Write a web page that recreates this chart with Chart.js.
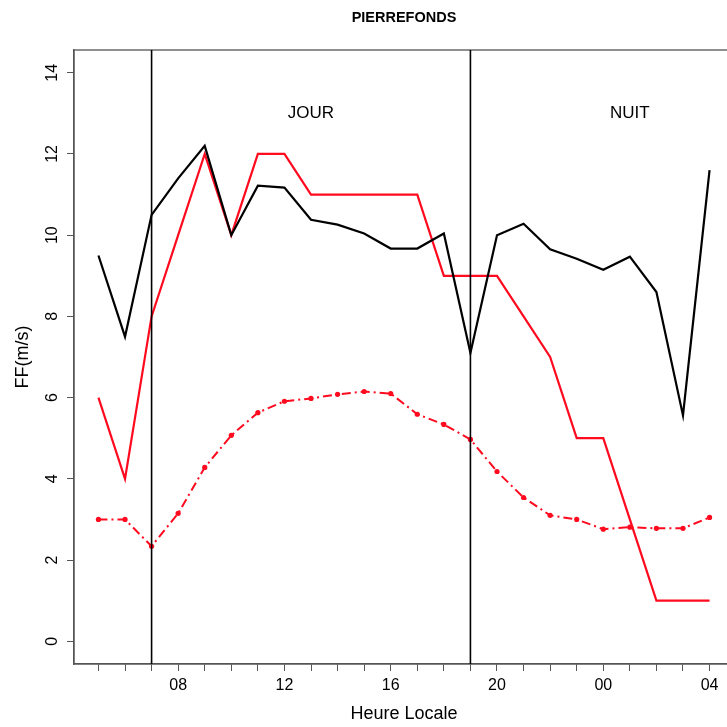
<!DOCTYPE html>
<html>
<head>
<meta charset="utf-8">
<script src="https://cdn.jsdelivr.net/npm/chart.js@4"></script>
<style>
  html, body { margin: 0; padding: 0; background: #fff; overflow: hidden; }
  #wrap { width: 745px; height: 727px; }
</style>
</head>
<body>
<div id="wrap"><canvas id="ffChart" width="745" height="727"></canvas></div>
<script>
// heures locales, de 05h a 04h le lendemain
const heures = ['05','06','07','08','09','10','11','12','13','14','15','16','17','18','19','20','21','22','23','00','01','02','03','04'];
const xTickLabels = ['08','12','16','20','00','04'];
const yTicks = [0, 2, 4, 6, 8, 10, 12, 14];

// vent moyen (noir), rafales / vent max (rouge), moyenne climato (rouge pointille)
const ffNoir = [9.5, 7.5, 10.5, 11.4, 12.2, 10.0, 11.22, 11.17, 10.38, 10.26, 10.04, 9.67, 9.67, 10.04, 7.1, 10.0, 10.28, 9.65, 9.42, 9.15, 9.47, 8.6, 5.56, 11.6];
const ffRouge = [6, 4, 8, 10, 12, 10, 12, 12, 11, 11, 11, 11, 11, 9, 9, 9, 8, 7, 5, 5, 3, 1, 1, 1];
const ffClim = [3.0, 3.0, 2.34, 3.15, 4.28, 5.07, 5.63, 5.91, 5.98, 6.08, 6.15, 6.1, 5.59, 5.34, 4.97, 4.18, 3.54, 3.1, 3.0, 2.76, 2.81, 2.78, 2.78, 3.05];

// limites jour / nuit
const limites = ['07', '19'];
const zones = [{ texte: 'JOUR', heure: '13', y: 13 }, { texte: 'NUIT', heure: '01', y: 13 }];

const police = "'Liberation Sans', Arial, sans-serif";

function pts(vals) {
    return vals.map((v, i) => ({ x: i, y: v }));
}

const decor = {
    id: 'decor',
    afterDatasetsDraw(chart) {
        const ctx = chart.ctx;
        const a = chart.chartArea;
        const xs = chart.scales.x, ys = chart.scales.y;
        ctx.save();
        // cadre
        ctx.strokeStyle = '#555';
        ctx.lineWidth = 1.3;
        ctx.strokeRect(a.left, a.top, a.right - a.left, a.bottom - a.top);
        // lignes verticales
        ctx.strokeStyle = '#000';
        ctx.lineWidth = 1.6;
        limites.forEach(h => {
            const px = xs.getPixelForValue(heures.indexOf(h));
            ctx.beginPath();
            ctx.moveTo(px, a.top);
            ctx.lineTo(px, a.bottom);
            ctx.stroke();
        });
        // textes JOUR / NUIT
        ctx.fillStyle = '#000';
        ctx.font = '17px ' + police;
        ctx.textAlign = 'center';
        ctx.textBaseline = 'middle';
        zones.forEach(z => {
            ctx.fillText(z.texte, xs.getPixelForValue(heures.indexOf(z.heure)), ys.getPixelForValue(z.y));
        });
        // titre
        ctx.font = 'bold 14.5px ' + police;
        ctx.fillText('PIERREFONDS', (a.left + a.right) / 2, 18);
        ctx.restore();
    }
};

new Chart(document.getElementById('ffChart'), {
    type: 'line',
    data: {
        datasets: [{
            label: 'FF',
            data: pts(ffNoir),
            borderColor: '#000',
            borderWidth: 2.2,
            pointRadius: 0,
            tension: 0
        }, {
            label: 'FX',
            data: pts(ffRouge),
            borderColor: '#ff0a1e',
            borderWidth: 2.2,
            pointRadius: 0,
            tension: 0
        }, {
            label: 'Clim',
            data: pts(ffClim),
            borderColor: '#ff0a1e',
            backgroundColor: '#ff0a1e',
            borderWidth: 2,
            borderDash: [9, 4, 2, 4],
            pointRadius: 2.6,
            pointBorderWidth: 0,
            tension: 0
        }]
    },
    options: {
        responsive: false,
        animation: false,
        layout: { padding: { left: 0, top: 50, right: 11, bottom: 0 } },
        plugins: {
            legend: { display: false },
            tooltip: { enabled: false }
        },
        scales: {
            x: {
                type: 'linear',
                min: -0.92,
                max: 23.92,
                afterBuildTicks: (scale) => {
                    scale.ticks = heures.map((h, i) => ({ value: i }));
                },
                afterFit: (scale) => { scale.height = 63; },
                grid: { drawOnChartArea: false, drawTicks: true, tickLength: 7, color: '#555' },
                border: { display: true, color: '#555', width: 1.3 },
                ticks: {
                    autoSkip: false,
                    maxRotation: 0,
                    padding: 5,
                    color: '#000',
                    font: { family: police, size: 16 },
                    callback: (v) => xTickLabels.includes(heures[v]) ? heures[v] : ''
                },
                title: {
                    display: true,
                    text: 'Heure Locale',
                    color: '#000',
                    font: { family: police, size: 18 },
                    padding: { top: 0, bottom: 2 }
                }
            },
            y: {
                min: -0.56,
                max: 14.56,
                afterBuildTicks: (scale) => {
                    scale.ticks = yTicks.map(v => ({ value: v }));
                },
                afterFit: (scale) => { scale.width = 74; },
                grid: { drawOnChartArea: false, drawTicks: true, tickLength: 7, color: '#555' },
                border: { display: true, color: '#555', width: 1.3 },
                ticks: {
                    minRotation: 90,
                    maxRotation: 90,
                    crossAlign: 'center',
                    padding: 6,
                    color: '#000',
                    font: { family: police, size: 16 }
                },
                title: {
                    display: true,
                    text: 'FF(m/s)',
                    color: '#000',
                    font: { family: police, size: 18 },
                    padding: { top: 12, bottom: 0 }
                }
            }
        }
    },
    plugins: [decor]
});
</script>
</body>
</html>
